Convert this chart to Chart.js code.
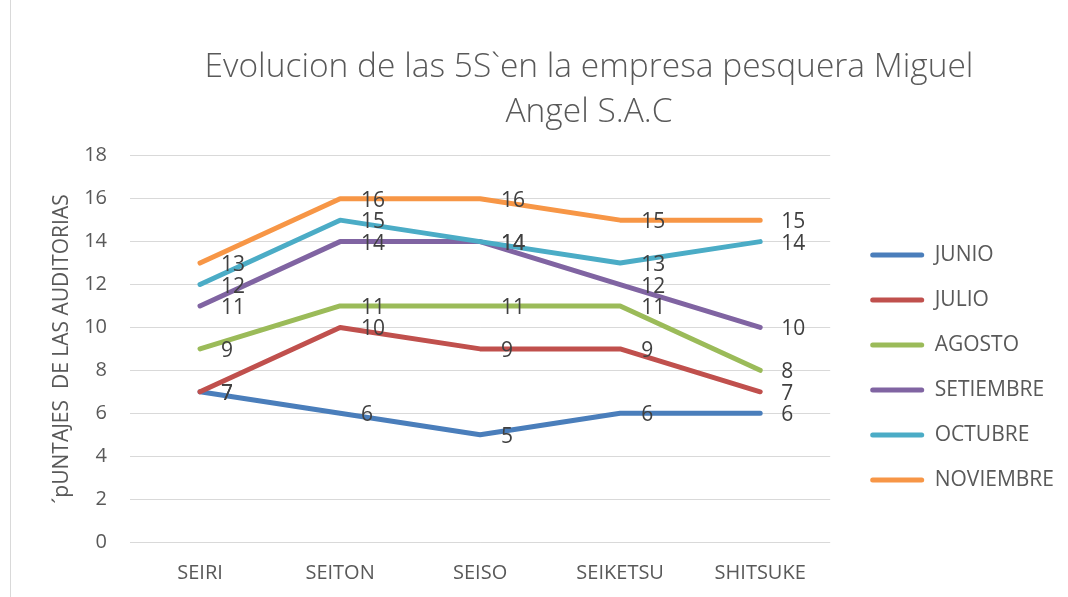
<!DOCTYPE html>
<html>
<head>
<meta charset="utf-8">
<script src="https://cdn.jsdelivr.net/npm/chart.js@4.4.1/dist/chart.umd.min.js"></script>
<style>
  html, body { margin: 0; padding: 0; background: #fff; }
  #wrap { position: relative; width: 1068px; height: 597px; }
  #wrap::before { content: ""; position: absolute; left: 10px; top: 0; bottom: 0; width: 1px; background: #d9d9d9; }
</style>
</head>
<body>
<div id="wrap"><canvas id="chart" width="1068" height="597"></canvas></div>
<script>
// categorias y puntajes
const categories = ["SEIRI", "SEITON", "SEISO", "SEIKETSU", "SHITSUKE"];
const months = ["JUNIO", "JULIO", "AGOSTO", "SETIEMBRE", "OCTUBRE", "NOVIEMBRE"];
const junio = [7, 6, 5, 6, 6];
const julio = [7, 10, 9, 9, 7];
const agosto = [9, 11, 11, 11, 8];
const setiembre = [11, 14, 14, 12, 10];
const octubre = [12, 15, 14, 13, 14];
const noviembre = [13, 16, 16, 15, 15];
const colors = ["#4a7ebb", "#c0504d", "#9bbb59", "#8064a2", "#4bacc6", "#f79646"];

const series = [junio, julio, agosto, setiembre, octubre, noviembre];

Chart.defaults.font.family = "'Open Sans', sans-serif";
Chart.defaults.color = "#595959";

// etiquetas de datos a la derecha de cada punto
const dataLabels = {
  id: "dataLabels",
  afterDatasetsDraw(chart) {
    const ctx = chart.ctx;
    ctx.save();
    ctx.font = "21px 'Open Sans', sans-serif";
    ctx.fillStyle = "#404040";
    ctx.textAlign = "left";
    ctx.textBaseline = "middle";
    chart.data.datasets.forEach((ds, i) => {
      chart.getDatasetMeta(i).data.forEach((pt, j) => {
        ctx.fillText(ds.data[j], pt.x + 21, pt.y + 2);
      });
    });
    ctx.restore();
  }
};

// mover leyenda y titulo
const shiftBoxes = {
  id: "shiftBoxes",
  afterLayout(chart) {
    const lg = chart.legend;
    lg.left += 16; lg.right += 16;
    lg.top += 69; lg.bottom += 69;
    const tb = chart.titleBlock;
    tb.left += 45; tb.right += 45;
  }
};

const chart = new Chart(document.getElementById("chart"), {
  type: "line",
  data: {
    labels: categories,
    datasets: series.map((d, i) => ({
      label: months[i],
      data: d,
      borderColor: colors[i],
      backgroundColor: colors[i],
      borderWidth: 5,
      borderCapStyle: "round",
      borderJoinStyle: "round",
      pointRadius: 0,
      tension: 0,
      fill: false,
      order: series.length - i
    }))
  },
  options: {
    responsive: false,
    animation: false,
    devicePixelRatio: 1,
    layout: { padding: { left: 40, right: 20, top: 0, bottom: 0 } },
    plugins: {
      title: {
        display: true,
        text: ["Evolucion de las 5S`en la empresa pesquera Miguel", "Angel S.A.C"],
        color: "#595959",
        font: { size: 33.5, weight: "300", lineHeight: 1.34 },
        padding: { top: 45, bottom: 21 }
      },
      legend: {
        position: "right",
        labels: {
          boxWidth: 54,
          boxHeight: 5,
          padding: 24,
          useBorderRadius: true,
          borderRadius: 2.5,
          font: { size: 21 },
          color: "#595959",
          generateLabels(chart) {
            return chart.data.datasets.map((ds, i) => ({
              text: ds.label,
              fillStyle: ds.borderColor,
              strokeStyle: ds.borderColor,
              lineWidth: 0,
              borderRadius: 2.5,
              fontColor: "#595959",
              datasetIndex: i,
              hidden: false
            }));
          }
        }
      },
      tooltip: { enabled: false }
    },
    scales: {
      x: {
        offset: true,
        grid: { display: false, drawTicks: false },
        border: { display: false },
        ticks: { padding: 19, font: { size: 20 }, color: "#595959" },
        afterFit(scale) { scale.height = 55; }
      },
      y: {
        min: 0,
        max: 18,
        ticks: { stepSize: 2, padding: 23, font: { size: 20 }, color: "#595959" },
        grid: { color: "#d9d9d9", lineWidth: 1, drawTicks: false },
        border: { display: false },
        title: {
          display: true,
          text: "´pUNTAJES  DE LAS AUDITORIAS",
          color: "#595959",
          font: { size: 21 },
          padding: { top: 9, bottom: 0 }
        },
        afterFit(scale) { scale.width = 90; }
      }
    }
  },
  plugins: [dataLabels, shiftBoxes]
});
</script>
</body>
</html>
